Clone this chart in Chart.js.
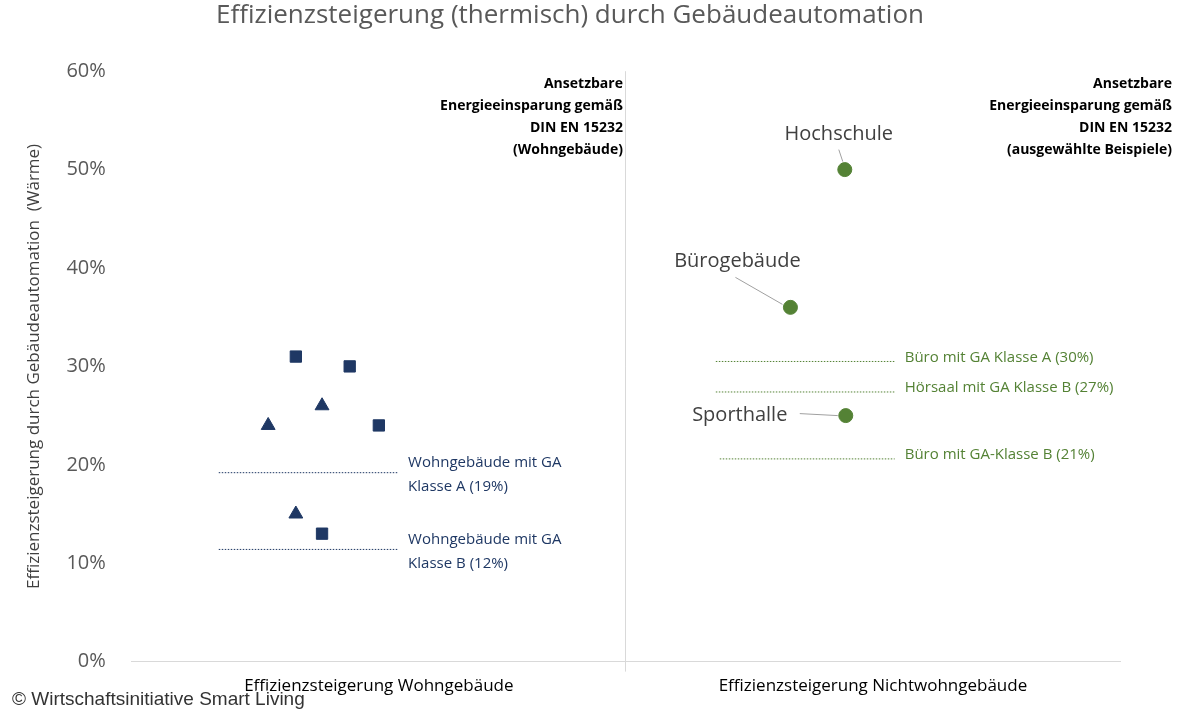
<!DOCTYPE html>
<html><head><meta charset="utf-8">
<script src="https://cdn.jsdelivr.net/npm/chart.js@4"></script>
<style>body{margin:0;background:#fff}#wrap{width:1200px;height:720px;position:relative}</style>
</head><body><div id="wrap"><canvas id="myChart" width="1200" height="720"></canvas></div>
<script>
// data
var categories = ["Effizienzsteigerung Wohngebäude", "Effizienzsteigerung Nichtwohngebäude"];
var squares = [{x:0.332,y:31},{x:0.441,y:30},{x:0.5,y:24},{x:0.385,y:13}];
var triangles = [{x:0.276,y:24},{x:0.385,y:26},{x:0.332,y:15}];
var circles = [{x:1.443,y:50,label:"Hochschule"},{x:1.333,y:36,label:"Bürogebäude"},{x:1.445,y:25,label:"Sporthalle"}];
var refLines = [
  {x0:0.176,x1:0.539,y:19.2,color:"#1f3864",text:["Wohngebäude mit GA","Klasse A (19%)"]},
  {x0:0.176,x1:0.539,y:11.4,color:"#1f3864",text:["Wohngebäude mit GA","Klasse B (12%)"]},
  {x0:1.182,x1:1.544,y:30.5,color:"#548235",text:["Büro mit GA Klasse A (30%)"]},
  {x0:1.182,x1:1.544,y:27.4,color:"#548235",text:["Hörsaal mit GA Klasse B (27%)"]},
  {x0:1.19,x1:1.544,y:20.6,color:"#548235",text:["Büro mit GA-Klasse B (21%)"]}
];
var yTicks = [0,10,20,30,40,50,60];

var font = "'Open Sans', 'Noto Sans', sans-serif";

var overlay = {
  id: "overlay",
  afterDatasetsDraw: function(chart) {
    var c = chart.ctx, xs = chart.scales.x, ys = chart.scales.y;
    c.save();
    refLines.forEach(function(r) {
      c.strokeStyle = r.color; c.lineWidth = 1; c.setLineDash([1.5, 1.5]);
      c.beginPath(); c.moveTo(xs.getPixelForValue(r.x0), ys.getPixelForValue(r.y));
      c.lineTo(xs.getPixelForValue(r.x1), ys.getPixelForValue(r.y)); c.stroke();
      c.setLineDash([]);
      c.fillStyle = r.color; c.font = "15px " + font; c.textAlign = "left"; c.textBaseline = "middle";
      var tx = xs.getPixelForValue(r.x1) + 10, ty = ys.getPixelForValue(r.y);
      if (r.text.length == 2) {
        c.fillText(r.text[0], tx, ty - 10); c.fillText(r.text[1], tx, ty + 14);
      } else c.fillText(r.text[0], tx, ty - 4);
    });
    // circle labels
    c.font = "20px " + font; c.fillStyle = "#404040"; c.textBaseline = "middle";
    var p0 = {x: xs.getPixelForValue(circles[0].x), y: ys.getPixelForValue(circles[0].y)};
    c.textAlign = "center"; c.fillText(circles[0].label, p0.x - 6, p0.y - 35);
    c.strokeStyle = "#a0a0a0"; c.lineWidth = 1;
    c.beginPath(); c.moveTo(p0.x - 6, p0.y - 20); c.lineTo(p0.x - 2, p0.y - 8); c.stroke();
    var p1 = {x: xs.getPixelForValue(circles[1].x), y: ys.getPixelForValue(circles[1].y)};
    c.fillText(circles[1].label, p1.x - 53, p1.y - 46);
    c.beginPath(); c.moveTo(p1.x - 55, p1.y - 30); c.lineTo(p1.x - 8, p1.y - 3); c.stroke();
    var p2 = {x: xs.getPixelForValue(circles[2].x), y: ys.getPixelForValue(circles[2].y)};
    c.fillText(circles[2].label, p2.x - 106, p2.y);
    c.beginPath(); c.moveTo(p2.x - 46, p2.y - 2); c.lineTo(p2.x - 8, p2.y); c.stroke();
    // pane headings
    c.font = "bold 14px " + font; c.fillStyle = "#000"; c.textAlign = "right"; c.textBaseline = "alphabetic";
    var h1 = ["Ansetzbare","Energieeinsparung gemäß","DIN EN 15232","(Wohngebäude)"];
    var h2 = ["Ansetzbare","Energieeinsparung gemäß","DIN EN 15232","(ausgewählte Beispiele)"];
    h1.forEach(function(t, i) { c.fillText(t, xs.getPixelForValue(1) - 3, 88 + i * 22); });
    h2.forEach(function(t, i) { c.fillText(t, 1172, 88 + i * 22); });
    // copyright
    c.font = "19px 'Liberation Sans', Arial, sans-serif"; c.textAlign = "left";
    c.strokeStyle = "#fff"; c.lineWidth = 3; c.lineJoin = "round";
    c.strokeText("© Wirtschaftsinitiative Smart Living", 12, 705);
    c.fillStyle = "#333"; c.fillText("© Wirtschaftsinitiative Smart Living", 12, 705);
    c.restore();
  }
};

var ctx = document.getElementById("myChart").getContext("2d");
var myChart = new Chart(ctx, {
  type: "scatter",
  data: {
    datasets: [
      {data: squares, pointStyle: "rect", pointRadius: 8, backgroundColor: "#1f3864", borderColor: "#1f3864"},
      {data: triangles, pointStyle: "triangle", pointRadius: 8, backgroundColor: "#1f3864", borderColor: "#1f3864"},
      {data: circles, pointStyle: "circle", pointRadius: 7, backgroundColor: "#548235", borderColor: "#548235"}
    ]
  },
  options: {
    responsive: false, animation: false, devicePixelRatio: 1,
    layout: {padding: {left: 20, right: 80, top: 0, bottom: 20}},
    plugins: {
      legend: {display: false}, tooltip: {enabled: false},
      title: {display: true, text: "Effizienzsteigerung (thermisch) durch Gebäudeautomation",
        color: "#595959", font: {family: font, size: 26, weight: "normal"}, padding: {top: 0, bottom: 40}}
    },
    scales: {
      x: {
        min: 0, max: 2,
        afterBuildTicks: function(s) { s.ticks = [{value: 0.5}, {value: 1}, {value: 1.5}]; },
        ticks: {color: "#000", font: {family: font, size: 17}, padding: 4, maxRotation: 0, autoSkip: false,
          callback: function(v) { return v == 0.5 ? categories[0] : v == 1.5 ? categories[1] : ""; }},
        grid: {color: function(c) { return c.tick && c.tick.value == 1 ? "#d9d9d9" : "rgba(0,0,0,0)"; },
          tickLength: 10, drawTicks: true},
        border: {color: "#d9d9d9"}
      },
      y: {
        min: 0, max: 60,
        afterBuildTicks: function(s) { s.ticks = yTicks.map(function(v) { return {value: v}; }); },
        ticks: {color: "#595959", font: {family: font, size: 20}, padding: 18,
          callback: function(v) { return v + "%"; }},
        grid: {display: false},
        border: {display: false},
        title: {display: true, text: "Effizienzsteigerung durch Gebäudeautomation  (Wärme)",
          color: "#404040", font: {family: font, size: 17}}
      }
    }
  },
  plugins: [overlay]
});
</script></body></html>
